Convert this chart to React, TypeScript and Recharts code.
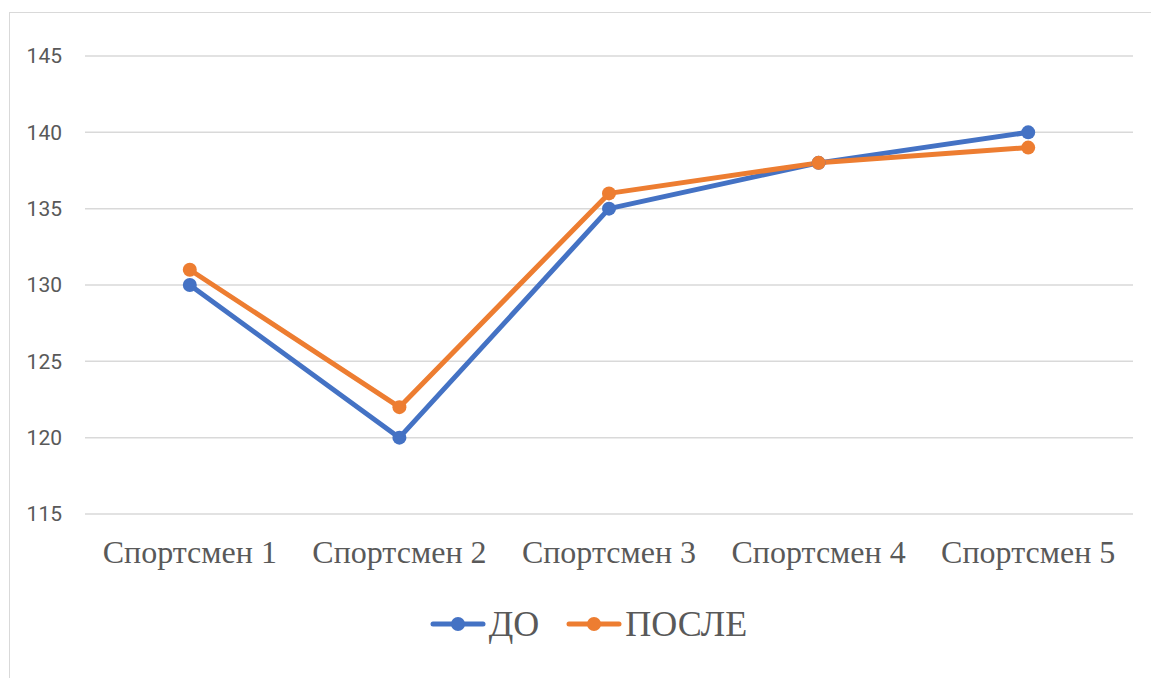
import React from "react";
import {
  CartesianGrid,
  Legend,
  Line,
  LineChart,
  XAxis,
  YAxis
} from "recharts";

const athletes = [
  "Спортсмен 1",
  "Спортсмен 2",
  "Спортсмен 3",
  "Спортсмен 4",
  "Спортсмен 5"
];
const before = [130, 120, 135, 138, 140];
const after = [131, 122, 136, 138, 139];
const yTicks = [115, 120, 125, 130, 135, 140, 145];

const seriesNames = { before: "ДО", after: "ПОСЛЕ" };
const BLUE = "#4472C4";
const ORANGE = "#ED7D31";
const TEXT = "#595959";
const GRID = "#d9d9d9";

const data = athletes.map((name, i) => ({
  name,
  before: before[i],
  after: after[i]
}));

const LegendIcon = ({ color }: { color: string }) => (
  <svg width={56} height={16} style={{ display: "block" }}>
    <line
      x1={3}
      y1={8}
      x2={53}
      y2={8}
      stroke={color}
      strokeWidth={5}
      strokeLinecap="round"
    />
    <circle cx={28} cy={8} r={7} fill={color} />
  </svg>
);

const renderLegend = () => (
  <div
    style={{
      display: "flex",
      justifyContent: "center",
      alignItems: "center",
      height: 40,
      paddingLeft: 44,
      fontFamily: '"Liberation Serif", "Times New Roman", serif',
      fontSize: 36,
      color: TEXT
    }}
  >
    {[
      { label: seriesNames.before, color: BLUE },
      { label: seriesNames.after, color: ORANGE }
    ].map((item, i) => (
      <div
        key={item.label}
        style={{
          display: "flex",
          alignItems: "center",
          marginLeft: i ? 27 : 0
        }}
      >
        <LegendIcon color={item.color} />
        <span style={{ marginLeft: 3, lineHeight: "40px" }}>{item.label}</span>
      </div>
    ))}
  </div>
);

const App = () => (
  <div
    style={{
      position: "fixed",
      left: 0,
      top: 0,
      width: 1151,
      height: 678,
      overflow: "hidden",
      background: "#fff"
    }}
  >
    <div
      style={{
        position: "absolute",
        left: 9,
        top: 12,
        width: 1200,
        height: 720,
        border: `1px solid ${GRID}`
      }}
    />
    <div style={{ position: "absolute", left: 0, top: 0 }}>
      <LineChart
        width={1151}
        height={678}
        data={data}
        margin={{ top: 56, right: 18, bottom: 34, left: 0 }}
      >
        <CartesianGrid
          vertical={false}
          stroke={GRID}
          strokeWidth={1.5}
        />
        <XAxis
          dataKey="name"
          axisLine={false}
          tickLine={false}
          tickSize={0}
          tickMargin={26}
          height={90}
          interval={0}
          padding={{ left: 104.8, right: 104.8 }}
          tick={{
            fill: TEXT,
            fontSize: 32,
            fontFamily: '"Liberation Serif", "Times New Roman", serif'
          }}
        />
        <YAxis
          domain={[115, 145]}
          ticks={yTicks}
          width={85}
          axisLine={false}
          tickLine={false}
          tickSize={0}
          tickMargin={23}
          tick={{ fill: TEXT, fontSize: 21, fontFamily: "Roboto, sans-serif" }}
        />
        <Legend verticalAlign="bottom" content={renderLegend} />
        <Line
          dataKey="before"
          name={seriesNames.before}
          stroke={BLUE}
          strokeWidth={5}
          strokeLinejoin="round"
          dot={{ r: 7, fill: BLUE, stroke: BLUE, strokeWidth: 0 }}
          activeDot={false}
          isAnimationActive={false}
        />
        <Line
          dataKey="after"
          name={seriesNames.after}
          stroke={ORANGE}
          strokeWidth={5}
          strokeLinejoin="round"
          dot={{ r: 7, fill: ORANGE, stroke: ORANGE, strokeWidth: 0 }}
          activeDot={false}
          isAnimationActive={false}
        />
      </LineChart>
    </div>
  </div>
);

export default App;
